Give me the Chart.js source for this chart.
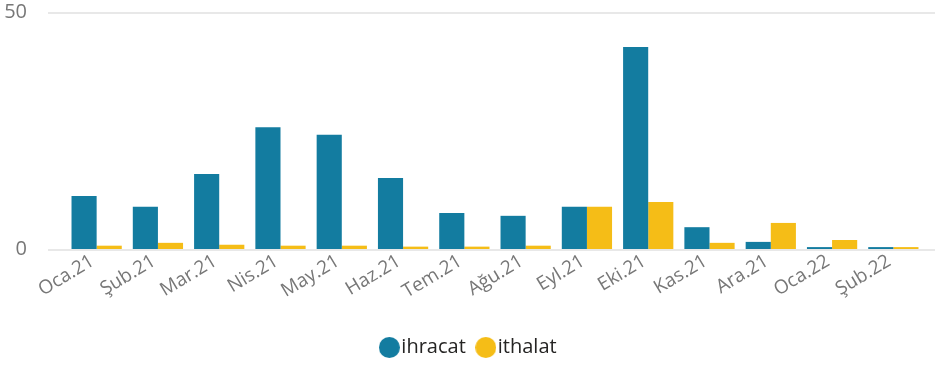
<!DOCTYPE html>
<html>
<head>
<meta charset="utf-8">
<script src="https://cdn.jsdelivr.net/npm/chart.js@4"></script>
<style>
  html, body { margin: 0; padding: 0; background: #fff; }
  #wrap { width: 935px; height: 366px; }
</style>
</head>
<body>
<div id="wrap"><canvas id="tradeChart"></canvas></div>
<script>
const months = ['Oca.21', 'Şub.21', 'Mar.21', 'Nis.21', 'May.21', 'Haz.21', 'Tem.21',
                'Ağu.21', 'Eyl.21', 'Eki.21', 'Kas.21', 'Ara.21', 'Oca.22', 'Şub.22'];
const ihracat = [11.2, 8.9, 15.8, 25.7, 24.1, 15.0, 7.6, 7.0, 8.9, 42.6, 4.6, 1.5, 0.4, 0.4];
const ithalat = [0.7, 1.3, 0.9, 0.7, 0.7, 0.5, 0.5, 0.7, 8.9, 9.9, 1.3, 5.5, 1.9, 0.4];
const yTicks = [0, 50];
const colors = ['#137CA0', '#F5BD17'];

const FONT = "'Open Sans', 'Noto Sans', sans-serif";

// round legend markers, drawn once into small canvases
function dot(color) {
    const c = document.createElement('canvas');
    c.width = 21; c.height = 21;
    const g = c.getContext('2d');
    g.fillStyle = color;
    g.beginPath();
    g.arc(10.5, 10.5, 10.5, 0, Math.PI * 2);
    g.fill();
    return c;
}
const dots = colors.map(dot);

// horizontal grid lines run the full width, from the tick labels to the right edge
const gridLines = {
    id: 'gridLines',
    afterLayout(chart) {
        // nudge the legend row to sit centred under the plot
        chart.legend.left += 10;
        chart.legend.right += 10;
    },
    beforeDatasetsDraw(chart) {
        const { ctx, scales: { y } } = chart;
        ctx.save();
        ctx.strokeStyle = '#e8e8e8';
        ctx.lineWidth = 2;
        y.ticks.forEach(t => {
            const py = Math.round(y.getPixelForValue(t.value)) + 1;
            ctx.beginPath();
            ctx.moveTo(48, py);
            ctx.lineTo(chart.width, py);
            ctx.stroke();
        });
        ctx.restore();
    }
};

new Chart(document.getElementById('tradeChart'), {
    type: 'bar',
    data: {
        labels: months,
        datasets: [
            { label: 'ihracat', data: ihracat, backgroundColor: colors[0] },
            { label: 'ithalat', data: ithalat, backgroundColor: colors[1] }
        ]
    },
    options: {
        responsive: true,
        maintainAspectRatio: false,
        animation: false,
        categoryPercentage: 0.82,
        barPercentage: 1,
        layout: { padding: { top: 0, right: 11, bottom: 7.5, left: 0 } },
        plugins: {
            tooltip: { enabled: false },
            legend: {
                position: 'bottom',
                maxHeight: 39,
                labels: {
                    usePointStyle: true,
                    pointStyleWidth: 4,
                    boxHeight: 15,
                    padding: 18,
                    color: '#252423',
                    font: { family: FONT, size: 20 },
                    generateLabels(chart) {
                        const items = Chart.defaults.plugins.legend.labels.generateLabels(chart);
                        items.forEach((it, i) => { it.pointStyle = dots[i]; });
                        return items;
                    }
                }
            }
        },
        scales: {
            x: {
                grid: { display: false, drawTicks: false },
                border: { display: false },
                ticks: {
                    color: '#777',
                    font: { family: FONT, size: 19 },
                    minRotation: 31,
                    maxRotation: 31,
                    labelOffset: -4,
                    padding: 1
                },
                afterFit(scale) { scale.height = 70.5; }
            },
            y: {
                min: 0,
                max: 50,
                grid: { display: false, drawTicks: true, tickLength: 39 },
                border: { display: false },
                afterBuildTicks(scale) { scale.ticks = yTicks.map(v => ({ value: v })); },
                ticks: {
                    color: '#777',
                    font: { family: FONT, size: 20 },
                    padding: 0
                },
                afterFit(scale) { scale.width = 66; }
            }
        }
    },
    plugins: [gridLines]
});
</script>
</body>
</html>
